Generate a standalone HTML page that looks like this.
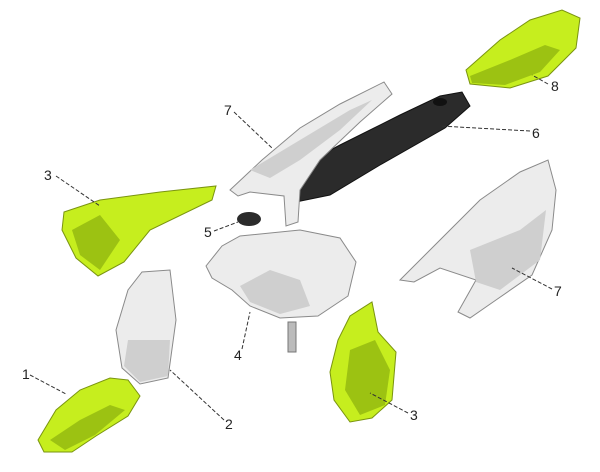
<!DOCTYPE html>
<html><head><meta charset="utf-8"><style>
html,body{margin:0;padding:0;background:#fff;}
svg{display:block}
text{font-family:"Liberation Sans",sans-serif;font-size:14px;fill:#222}
.g{fill:#c6ee1e;stroke:#7a9410;stroke-width:1}
.gd{fill:#9cc212}
.w{fill:#ececec;stroke:#8a8a8a;stroke-width:1}
.wd{fill:#cfcfcf}
.l{stroke:#333;stroke-width:1;stroke-dasharray:4 2;fill:none}
</style></head><body>
<svg width="600" height="472" viewBox="0 0 600 472">
<!-- 8 -->
<polygon class="g" points="466,70 500,40 530,20 562,10 580,18 576,48 548,76 510,88 470,84"/>
<polygon class="gd" points="470,76 510,60 545,45 560,50 540,72 505,85 472,83"/>
<!-- 6 seat -->
<polygon fill="#2b2b2b" stroke="#111" points="278,178 340,145 400,115 440,96 462,92 470,106 445,128 380,165 330,195 296,202 280,192"/>
<ellipse cx="440" cy="102" rx="7" ry="4" fill="#111"/>
<!-- 7 top-left frame -->
<polygon class="w" points="230,190 262,160 300,128 340,104 384,82 392,94 360,122 320,160 300,190 298,222 286,226 284,196 250,192 238,196"/>
<polygon class="wd" points="250,170 300,140 350,110 372,100 340,130 300,160 270,178"/>
<!-- 3 left green -->
<polygon class="g" points="64,212 100,200 160,192 216,186 212,200 150,230 124,262 98,276 76,258 62,230"/>
<polygon class="gd" points="72,230 100,215 120,240 100,270 80,255"/>
<!-- 5 -->
<ellipse cx="249" cy="219" rx="12" ry="7" fill="#2b2b2b"/>
<!-- 4 tank -->
<polygon class="w" points="206,266 222,246 240,236 300,230 340,238 356,262 348,296 318,316 280,318 250,306 232,290 212,278"/>
<polygon class="wd" points="240,286 270,270 300,280 310,306 280,314 250,302"/>
<rect x="288" y="322" width="8" height="30" fill="#bbb" stroke="#777"/>
<!-- 7 right -->
<polygon class="w" points="400,280 440,240 480,200 520,172 548,160 556,190 552,230 532,275 496,300 470,318 458,312 476,280 440,268 414,282"/>
<polygon class="wd" points="470,250 520,230 546,210 540,260 500,290 476,282"/>
<!-- 2 plate -->
<polygon class="w" points="116,330 128,290 142,272 170,270 176,320 168,378 140,384 122,368"/>
<polygon class="wd" points="128,340 170,340 168,376 140,382 124,366"/>
<!-- 3 right green -->
<polygon class="g" points="330,372 338,340 350,316 372,302 378,332 396,352 392,400 372,418 350,422 334,400"/>
<polygon class="gd" points="350,350 375,340 390,370 385,405 360,415 345,390"/>
<!-- 1 fender -->
<polygon class="g" points="38,440 56,410 80,390 110,378 128,380 140,396 128,416 96,436 72,452 44,452"/>
<polygon class="gd" points="50,440 80,420 110,405 125,410 95,435 65,450"/>
<!-- leaders -->
<line class="l" x1="30" y1="375" x2="66" y2="394"/>
<line class="l" x1="224" y1="420" x2="170" y2="370"/>
<line class="l" x1="56" y1="176" x2="100" y2="206"/>
<line class="l" x1="408" y1="413" x2="370" y2="393"/>
<line class="l" x1="242" y1="349" x2="250" y2="312"/>
<line class="l" x1="214" y1="231" x2="238" y2="222"/>
<line class="l" x1="530" y1="131" x2="440" y2="126"/>
<line class="l" x1="234" y1="112" x2="272" y2="148"/>
<line class="l" x1="552" y1="289" x2="512" y2="268"/>
<line class="l" x1="548" y1="84" x2="532" y2="75"/>
<!-- labels -->
<text x="22" y="379">1</text>
<text x="225" y="429">2</text>
<text x="44" y="180">3</text>
<text x="410" y="420">3</text>
<text x="234" y="360">4</text>
<text x="204" y="237">5</text>
<text x="532" y="138">6</text>
<text x="224" y="115">7</text>
<text x="554" y="296">7</text>
<text x="551" y="91">8</text>
</svg>
</body></html>
